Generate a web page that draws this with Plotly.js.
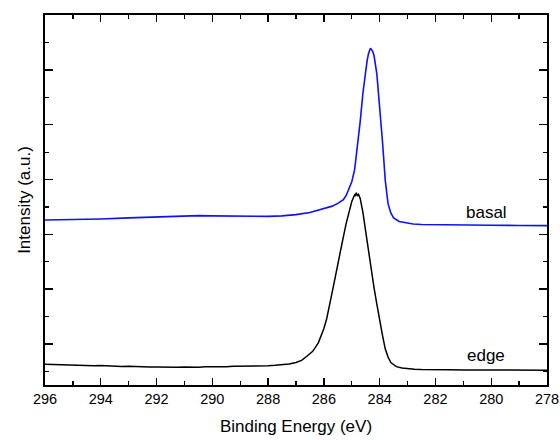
<!DOCTYPE html>
<html>
<head>
<meta charset="utf-8">
<script src="https://cdn.plot.ly/plotly-3.0.1.min.js"></script>
<style>html,body{margin:0;padding:0;background:#fff;}#chart{width:560px;height:440px;}</style>
</head>
<body>
<div id="chart"></div>
<script>
// Binding energy (eV) and intensity (a.u.)
const basalEnergy = [296, 295, 294, 293, 292, 291.5, 291, 290.5, 290, 289.5, 289, 288.5, 288, 287.5, 287, 286.5, 286.2, 286, 285.7, 285.5, 285.3, 285.2, 285.1, 285.0, 284.9, 284.8, 284.7, 284.6, 284.5, 284.45, 284.4, 284.33, 284.25, 284.2, 284.1, 284.0, 283.9, 283.8, 283.7, 283.6, 283.5, 283.3, 283.0, 282.8, 282.5, 282, 281.5, 281, 280, 279, 278];
const basalIntensity = [3.263, 3.27, 3.281, 3.30, 3.32, 3.332, 3.34, 3.342, 3.338, 3.333, 3.328, 3.323, 3.328, 3.338, 3.36, 3.40, 3.44, 3.465, 3.515, 3.565, 3.635, 3.71, 3.82, 3.96, 4.175, 4.57, 5.05, 5.58, 6.00, 6.17, 6.30, 6.396, 6.34, 6.26, 5.92, 5.33, 4.70, 3.99, 3.56, 3.39, 3.30, 3.235, 3.205, 3.19, 3.18, 3.175, 3.172, 3.17, 3.165, 3.162, 3.159];

const edgeEnergy = [296, 295.75, 295.5, 295.25, 295, 294.75, 294.5, 294.25, 294, 293.75, 293.5, 293.25, 293, 292.75, 292.5, 292.25, 292, 291.75, 291.5, 291.25, 291, 290.75, 290.5, 290.25, 290, 289.75, 289.5, 289.25, 289, 288.75, 288.5, 288.25, 288, 287.75, 287.5, 287.25, 287, 286.8, 286.6, 286.4, 286.2, 286.0, 285.9, 285.8, 285.7, 285.6, 285.5, 285.4, 285.3, 285.2, 285.1, 285.0, 284.95, 284.9, 284.87, 284.84, 284.8, 284.76, 284.7, 284.65, 284.6, 284.5, 284.4, 284.3, 284.2, 284.1, 284.0, 283.9, 283.8, 283.7, 283.6, 283.5, 283.4, 283.2, 283.0, 282.75, 282.5, 282.25, 282, 281.5, 281, 280.5, 280, 279.5, 279, 278.5, 278];
const edgeIntensity = [0.63, 0.625, 0.62, 0.628, 0.615, 0.61, 0.612, 0.60, 0.604, 0.596, 0.594, 0.588, 0.59, 0.584, 0.586, 0.578, 0.58, 0.574, 0.577, 0.572, 0.578, 0.574, 0.576, 0.582, 0.58, 0.586, 0.584, 0.59, 0.59, 0.596, 0.595, 0.60, 0.602, 0.61, 0.617, 0.635, 0.66, 0.70, 0.78, 0.865, 1.02, 1.28, 1.46, 1.68, 1.95, 2.20, 2.47, 2.72, 2.96, 3.20, 3.42, 3.60, 3.66, 3.72, 3.70, 3.76, 3.71, 3.73, 3.66, 3.54, 3.40, 3.05, 2.69, 2.36, 2.02, 1.72, 1.41, 1.16, 0.91, 0.76, 0.66, 0.62, 0.585, 0.56, 0.545, 0.536, 0.532, 0.534, 0.53, 0.528, 0.526, 0.527, 0.525, 0.526, 0.524, 0.525, 0.52];

const xTickVals = [296, 294, 292, 290, 288, 286, 284, 282, 280, 278];
const xTickText = ["296", "294", "292", "290", "288", "286", "284", "282", "280", "278"];

const traces = [
  {x: basalEnergy, y: basalIntensity, mode: "lines", name: "basal",
   line: {color: "#1010ff", width: 1.6}, hoverinfo: "skip"},
  {x: edgeEnergy, y: edgeIntensity, mode: "lines", name: "edge",
   line: {color: "#000000", width: 1.5}, hoverinfo: "skip"}
];

const font = {family: "Liberation Sans, Arial, Helvetica, sans-serif", color: "#000"};

const layout = {
  width: 560, height: 440,
  margin: {l: 45, r: 13, t: 15, b: 55},
  paper_bgcolor: "#fff", plot_bgcolor: "#fff",
  showlegend: false,
  font: font,
  xaxis: {
    range: [296, 278],
    tickvals: xTickVals, ticktext: xTickText,
    ticklabeloverflow: "allow",
    ticks: "inside", ticklen: 7, tickwidth: 1.3, tickcolor: "#000",
    minor: {dtick: 1, tick0: 0, ticks: "inside", ticklen: 4, tickwidth: 1.3, tickcolor: "#000"},
    showline: true, linecolor: "#000", linewidth: 1.6, mirror: "ticks",
    showgrid: false, zeroline: false,
    tickfont: {size: 14.5, color: "#000", family: font.family},
    title: {text: "Binding Energy (eV)", font: {size: 17, color: "#000", family: font.family}, standoff: 14}
  },
  yaxis: {
    range: [0.25, 7.004],
    dtick: 1, tick0: 0,
    ticks: "inside", ticklen: 8, tickwidth: 1.3, tickcolor: "#000",
    minor: {dtick: 0.5, tick0: 0, ticks: "inside", ticklen: 4, tickwidth: 1.3, tickcolor: "#000"},
    showticklabels: false,
    showline: true, linecolor: "#000", linewidth: 1.6, mirror: "ticks",
    showgrid: false, zeroline: false,
    title: {text: "Intensity (a.u.)", font: {size: 17, color: "#000", family: font.family}, standoff: 8}
  },
  annotations: [
    {x: 280.18, y: 3.39, xref: "x", yref: "y", text: "basal", showarrow: false,
     font: {size: 17, color: "#000", family: font.family}},
    {x: 280.18, y: 0.78, xref: "x", yref: "y", text: "edge", showarrow: false,
     font: {size: 17, color: "#000", family: font.family}}
  ]
};

Plotly.newPlot("chart", traces, layout, {displayModeBar: false, staticPlot: true});
</script>
</body>
</html>
